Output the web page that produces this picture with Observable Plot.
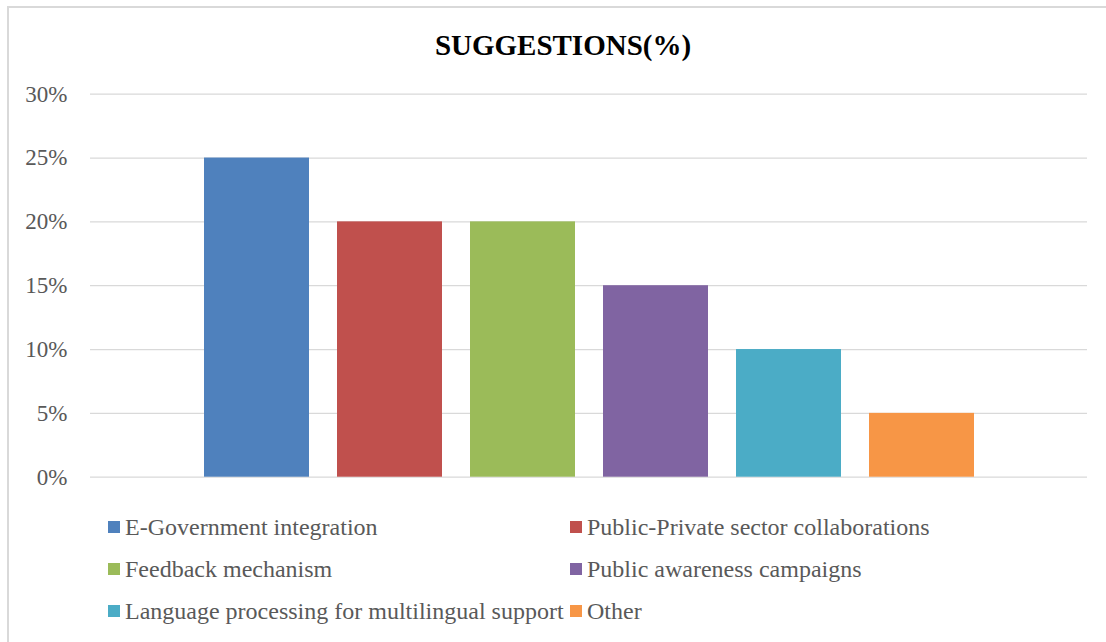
<!DOCTYPE html>
<html>
<head>
<meta charset="utf-8">
<script src="https://cdn.jsdelivr.net/npm/d3@7"></script>
<script src="https://cdn.jsdelivr.net/npm/@observablehq/plot@0.6"></script>
<style>
  html, body { margin: 0; padding: 0; background: #fff; }
  #wrap { position: relative; width: 1106px; height: 642px; overflow: hidden; font-family: "Liberation Serif", "Times New Roman", serif; }
  #border { position: absolute; left: 7px; top: 6px; width: 1120px; height: 660px; border: 2px solid #d9d9d9; box-sizing: border-box; }
  #title { position: absolute; left: 0; width: 1126px; top: 28px; text-align: center; font-weight: bold; font-size: 29px; color: #000; line-height: 34px; }
  #chart { position: absolute; left: 0; top: 0; }
  #chart svg text { font-family: "Liberation Serif", "Times New Roman", serif; }
  .leg { position: absolute; display: flex; align-items: center; font-size: 24px; color: #595959; height: 30px; white-space: nowrap; }
  .sw { width: 12px; height: 12px; margin-right: 5px; flex: none; }
</style>
</head>
<body>
<div id="wrap">
  <div id="border"></div>
  <div id="chart"></div>
  <div id="title">SUGGESTIONS(%)</div>
  <div id="legend"></div>
</div>
<script>
const categories = [
  "E-Government integration",
  "Public-Private sector collaborations",
  "Feedback mechanism",
  "Public awareness campaigns",
  "Language processing for multilingual support",
  "Other"
];
const values = [0.25, 0.20, 0.20, 0.15, 0.10, 0.05];
const colors = ["#4F81BD", "#C0504D", "#9BBB59", "#8064A2", "#4BACC6", "#F79646"];
const yTicks = [0, 0.05, 0.10, 0.15, 0.20, 0.25, 0.30];

const data = categories.map((c, i) => ({category: c, value: values[i]}));

const serif = "'Liberation Serif', 'Times New Roman', serif";
const plot = Plot.plot({
  width: 1106,
  height: 642,
  marginTop: 93.7,
  marginBottom: 165.3,
  marginLeft: 90,
  marginRight: 19,
  style: {background: "transparent", color: "#595959", fontFamily: serif},
  x: {domain: categories, range: [190, 988], paddingInner: 0.21, paddingOuter: 0.105, axis: null},
  y: {domain: [0, 0.30], label: null},
  color: {domain: categories, range: colors},
  marks: [
    Plot.ruleY(yTicks, {stroke: "#d9d9d9", strokeWidth: 1.3}),
    Plot.barY(data, {x: "category", y: "value", fill: "category"}),
    Plot.axisY({ticks: yTicks, tickFormat: d => Math.round(d * 100) + "%", tickSize: 0, tickPadding: 23, fontSize: 23, fontFamily: serif, fill: "#595959", label: null})
  ]
});
document.getElementById("chart").appendChild(plot);

// legend: two columns, three rows
const legend = document.getElementById("legend");
const colX = [108, 570];
const rowY = [527, 569, 611];
categories.forEach((c, i) => {
  const d = document.createElement("div");
  d.className = "leg";
  d.style.left = colX[i % 2] + "px";
  d.style.top = (rowY[Math.floor(i / 2)] - 15) + "px";
  const sw = document.createElement("span");
  sw.className = "sw";
  sw.style.background = colors[i];
  const t = document.createElement("span");
  t.textContent = c;
  d.appendChild(sw);
  d.appendChild(t);
  legend.appendChild(d);
});
</script>
</body>
</html>
